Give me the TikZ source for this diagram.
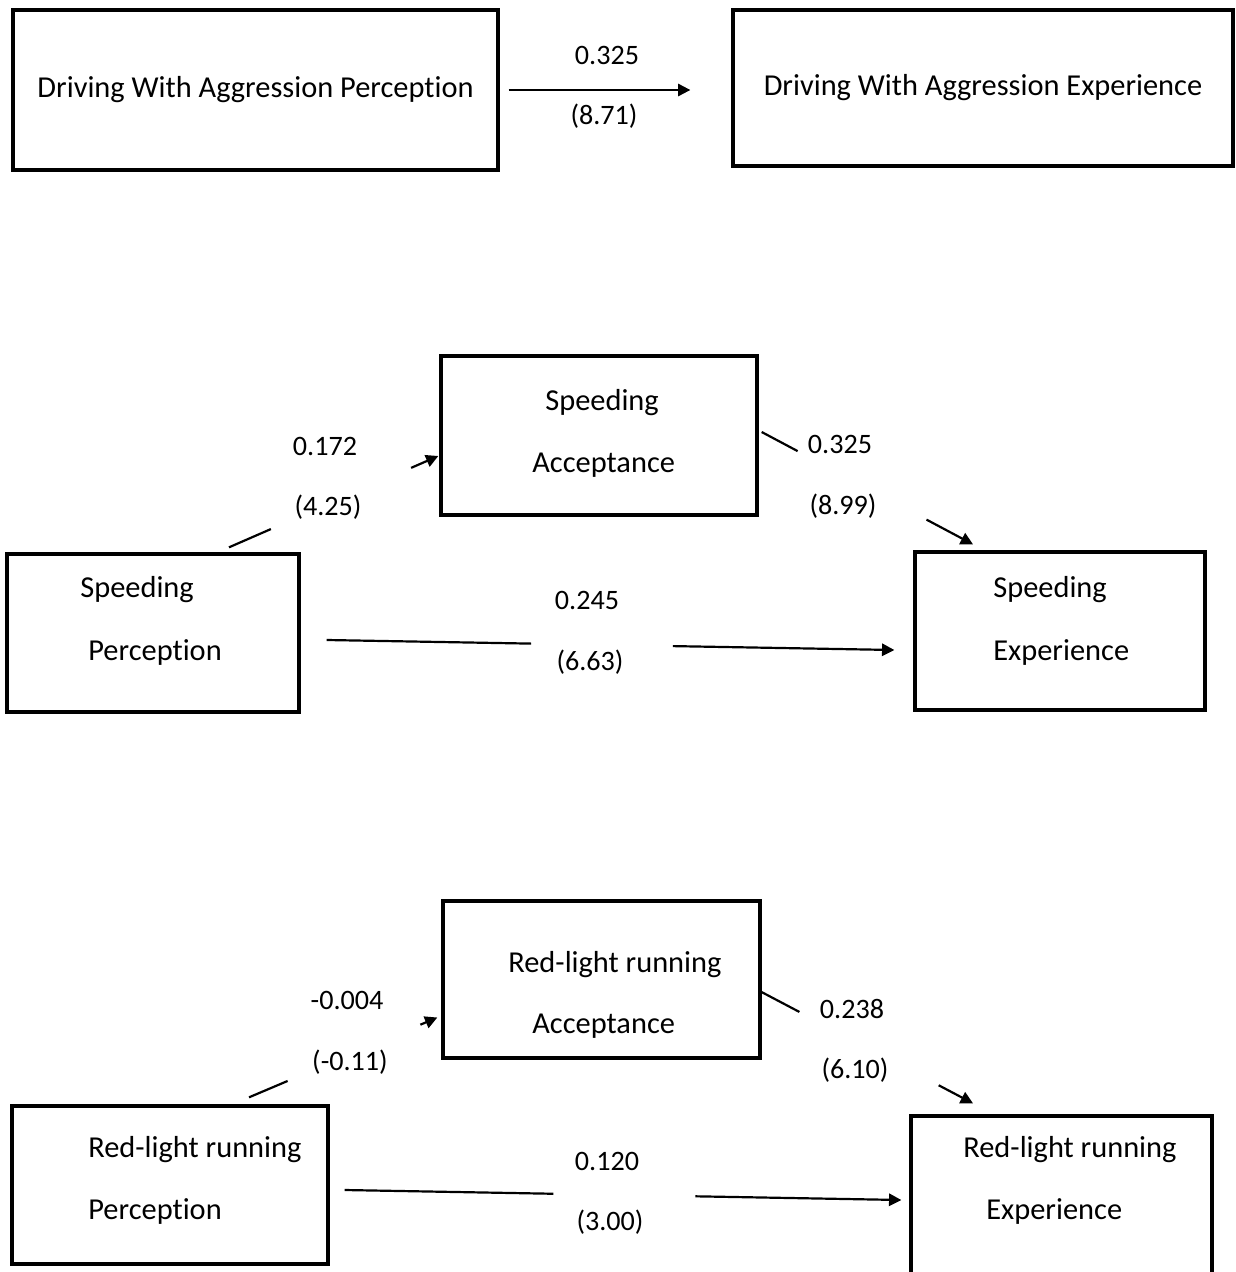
\documentclass[tikz,border=0pt]{standalone}
\usepackage{fontspec}
\setmainfont{Carlito}[RawFeature={-liga}]
\usetikzlibrary{calc,positioning,arrows.meta}

\begin{document}
\begin{tikzpicture}[
    x=0.2mm, y=-0.2mm,
    box/.style={draw, line width=1.9pt, inner sep=0pt, minimum height=3.16cm, font=\fontsize{17.3}{21}\selectfont},
    txt/.style={inner sep=0pt, anchor=base west, font=\fontsize{17.3}{21}\selectfont},
    coef/.style={inner sep=0pt, anchor=base, font=\fontsize{16}{19}\selectfont},
    link/.style={line width=1.25pt},
    arrowed/.style={-{Triangle[length=7pt, width=7pt]}}
]
    \useasboundingbox (0,0) rectangle (1235,1272);

    % Driving with aggression
    \node[box, minimum width=9.7cm, minimum height=3.2cm] (dwap) at (255.5, 90) {Driving With Aggression Perception};
    \node[box, minimum width=10cm, minimum height=3.12cm] (dwae) at (983, 88) {Driving With Aggression Experience};
    \draw[link, arrowed] ($(dwap.east)+(9,0)$) -- ($(dwae.west)+(-41,2)$);
    \node[coef] (c-dw) at (607, 65) {0.325};
    \node[coef] (t-dw) at (604, 125) {(8.71)};

    % Speeding boxes
    \node[box, minimum width=6.32cm, minimum height=3.18cm] (sa) at (599, 435.5) {};
    \node[txt] (sa-1) at (545, 410) {Speeding};
    \node[txt] (sa-2) at (532, 472) {Acceptance};

    \node[box, minimum width=5.84cm] (sp) at (153, 633) {};
    \node[txt] (sp-1) at (80, 597) {Speeding};
    \node[txt] (sp-2) at (88, 660) {Perception};

    \node[box, minimum width=5.8cm] (se) at (1060, 631) {};
    \node[txt] (se-1) at (993, 597) {Speeding};
    \node[txt] (se-2) at (993, 660) {Experience};

    % Speeding paths
    \coordinate (sp-a) at ($(sp.north)+(76,-5)$);
    \coordinate (sa-b) at ($(sa.west)+(-1,20.5)$);
    \draw[link] (sp-a) -- ($(sp-a)!0.20!(sa-b)$);
    \draw[link, arrowed] ($(sp-a)!0.87!(sa-b)$) -- (sa-b);
    \node[coef] (c-spa) at (325, 455.5) {0.172};
    \node[coef] (t-spa) at (328, 515.5) {(4.25)};

    \coordinate (sa-a) at ($(sa.east)+(3,-3.5)$);
    \coordinate (se-b) at ($(se.north)+(-87,-6)$);
    \draw[link] (sa-a) -- ($(sa-a)!0.17!(se-b)$);
    \draw[link, arrowed] ($(sa-a)!0.78!(se-b)$) -- (se-b);
    \node[coef] (c-sae) at (840, 453.5) {0.325};
    \node[coef] (t-sae) at (843, 514.5) {(8.99)};

    \coordinate (sp-c) at ($(sp.east)+(26,7)$);
    \coordinate (se-c) at ($(se.west)+(-19,19)$);
    \draw[link] (sp-c) -- ($(sp-c)!0.36!(se-c)$);
    \draw[link, arrowed] ($(sp-c)!0.61!(se-c)$) -- (se-c);
    \node[coef] (c-spe) at (587, 609.5) {0.245};
    \node[coef] (t-spe) at (590, 670.5) {(6.63)};

    % Red-light running boxes
    \node[box, minimum width=6.34cm, minimum height=3.14cm] (ra) at (601.5, 979.5) {};
    \node[txt] (ra-1) at (508, 972) {Red-light running};
    \node[txt] (ra-2) at (532, 1033) {Acceptance};

    \node[box, minimum width=6.32cm] (rp) at (170, 1185) {};
    \node[txt] (rp-1) at (88, 1157) {Red-light running};
    \node[txt] (rp-2) at (88, 1219) {Perception};

    \node[box, minimum width=6.02cm] (re) at (1061.5, 1195) {};
    \node[txt] (re-1) at (963, 1157) {Red-light running};
    \node[txt] (re-2) at (986, 1219) {Experience};

    % Red-light running paths
    \coordinate (rp-a) at ($(rp.north)+(79,-7)$);
    \coordinate (ra-b) at ($(ra.west)+(-4,38)$);
    \draw[link] (rp-a) -- ($(rp-a)!0.205!(ra-b)$);
    \draw[link, arrowed] ($(rp-a)!0.91!(ra-b)$) -- (ra-b);
    \node[coef] (c-rpa) at (347, 1009.5) {-0.004};
    \node[coef] (t-rpa) at (350, 1070.5) {(-0.11)};

    \coordinate (ra-a) at ($(ra.east)+(-3,11)$);
    \coordinate (re-b) at ($(re.north)+(-88.5,-11)$);
    \draw[link] (ra-a) -- ($(ra-a)!0.19!(re-b)$);
    \draw[link, arrowed] ($(ra-a)!0.84!(re-b)$) -- (re-b);
    \node[coef] (c-rae) at (852, 1018.5) {0.238};
    \node[coef] (t-rae) at (855, 1078.5) {(6.10)};

    \coordinate (rp-c) at ($(rp.east)+(15,5)$);
    \coordinate (re-c) at ($(re.west)+(-8,5)$);
    \draw[link] (rp-c) -- ($(rp-c)!0.375!(re-c)$);
    \draw[link, arrowed] ($(rp-c)!0.63!(re-c)$) -- (re-c);
    \node[coef] (c-rpe) at (607, 1170.5) {0.120};
    \node[coef] (t-rpe) at (610, 1230.5) {(3.00)};
\end{tikzpicture}
\end{document}
